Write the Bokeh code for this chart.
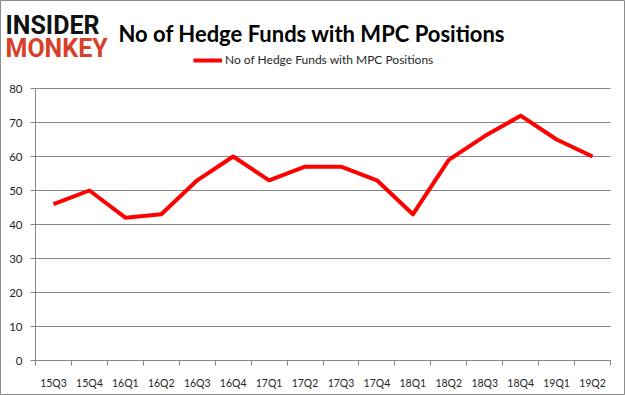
from bokeh.plotting import figure
from bokeh.models import FixedTicker, Label, Legend, LegendItem, Range1d
from bokeh.embed import file_html
from bokeh.resources import INLINE

quarters = ["15Q3", "15Q4", "16Q1", "16Q2", "16Q3", "16Q4", "17Q1", "17Q2",
            "17Q3", "17Q4", "18Q1", "18Q2", "18Q3", "18Q4", "19Q1", "19Q2"]
funds = [46, 50, 42, 43, 53, 60, 53, 57, 57, 53, 43, 59, 66, 72, 65, 60]
y_ticks = [0, 10, 20, 30, 40, 50, 60, 70, 80]
series_name = "No of Hedge Funds with MPC Positions"
title_text = "No of Hedge Funds with MPC Positions"
logo_top = "INSIDER"
logo_bottom = "MONKEY"

W, H = 625, 395
# plot-area pixel box inside the canvas
PX0, PX1 = 35, 610
PY_TOP, PY_BOT = 88, 360

n = len(quarters)
ymax_val = y_ticks[-1]
xs = [i + 0.5 for i in range(n)]

# ranges chosen so that the data box [0, n] x [0, 80] lands on the plot-area pixels
sx = (PX1 - PX0) / n
sy = (PY_BOT - PY_TOP) / ymax_val
x_range = Range1d(-PX0 / sx, n + (W - PX1) / sx)
y_range = Range1d(-(H - PY_BOT) / sy, ymax_val + PY_TOP / sy)

p = figure(width=W, height=H, output_backend="svg", toolbar_location=None,
           x_range=x_range, y_range=y_range, min_border=0)
p.min_border_left = p.min_border_right = p.min_border_top = p.min_border_bottom = 0
p.title.visible = False
p.background_fill_color = "white"
p.border_fill_color = "white"
p.outline_line_color = "#8c8c8c"
p.outline_line_width = 1

grey = "#868686"
label_color = "#262626"
axis_font = "Lato"

r = p.line(xs, funds, line_color="#ff0000", line_width=4, line_join="round")

# x axis
p.xaxis.fixed_location = 0
p.xaxis.bounds = (0, n)
p.xaxis.ticker = FixedTicker(ticks=xs, minor_ticks=list(range(n + 1)))
p.xaxis.major_label_overrides = {x: q for x, q in zip(xs, quarters)}
p.xaxis.major_tick_line_color = None
p.xaxis.major_tick_out = 0
p.xaxis.major_tick_in = 0
p.xaxis.minor_tick_line_color = grey
p.xaxis.minor_tick_out = 5
p.xaxis.minor_tick_in = 0
p.xaxis.axis_line_color = grey
p.xaxis.major_label_standoff = 11
p.xaxis.major_label_text_font = axis_font
p.xaxis.major_label_text_font_size = "10.5px"
p.xaxis.major_label_text_color = label_color

# y axis
p.yaxis.fixed_location = 0
p.yaxis.bounds = (0, ymax_val)
p.yaxis.ticker = FixedTicker(ticks=y_ticks)
p.yaxis.major_tick_line_color = grey
p.yaxis.major_tick_out = 5
p.yaxis.major_tick_in = 0
p.yaxis.minor_tick_line_color = None
p.yaxis.axis_line_color = grey
p.yaxis.major_label_standoff = 8
p.yaxis.major_label_text_font = axis_font
p.yaxis.major_label_text_font_size = "11.5px"
p.yaxis.major_label_text_color = label_color

p.xgrid.visible = False
p.ygrid.ticker = FixedTicker(ticks=y_ticks)
p.ygrid.bounds = (0, ymax_val)
p.ygrid.cross_bounds = (0, n)
p.ygrid.grid_line_color = grey
p.ygrid.grid_line_width = 1

# title (screen units: x from left, y from bottom)
p.add_layout(Label(x=118, y=H - 33, x_units="screen", y_units="screen", text=title_text,
                   text_font="Lato", text_font_size="22px", text_font_style="bold",
                   text_color="#000000", text_baseline="alphabetic", text_align="left"))

# logo
p.add_layout(Label(x=5, y=H - 25, x_units="screen", y_units="screen", text=logo_top,
                   text_font="Roboto", text_font_size="25px", text_font_style="bold",
                   text_color="#111111", text_baseline="alphabetic"))
p.add_layout(Label(x=5, y=H - 48, x_units="screen", y_units="screen", text=logo_bottom,
                   text_font="Roboto", text_font_size="25px", text_font_style="bold",
                   text_color="#d9402a", text_baseline="alphabetic"))

# legend
legend = Legend(items=[LegendItem(label=series_name, renderers=[r])],
                location=(193, H - 67), orientation="horizontal",
                glyph_width=29, glyph_height=12, label_height=12,
                label_standoff=3, padding=0, margin=0, spacing=0,
                border_line_color=None, background_fill_alpha=0,
                label_text_font=axis_font, label_text_font_size="12px",
                label_text_color=label_color)
p.add_layout(legend, "center")

open("out.html", "w").write(file_html(p, INLINE))
